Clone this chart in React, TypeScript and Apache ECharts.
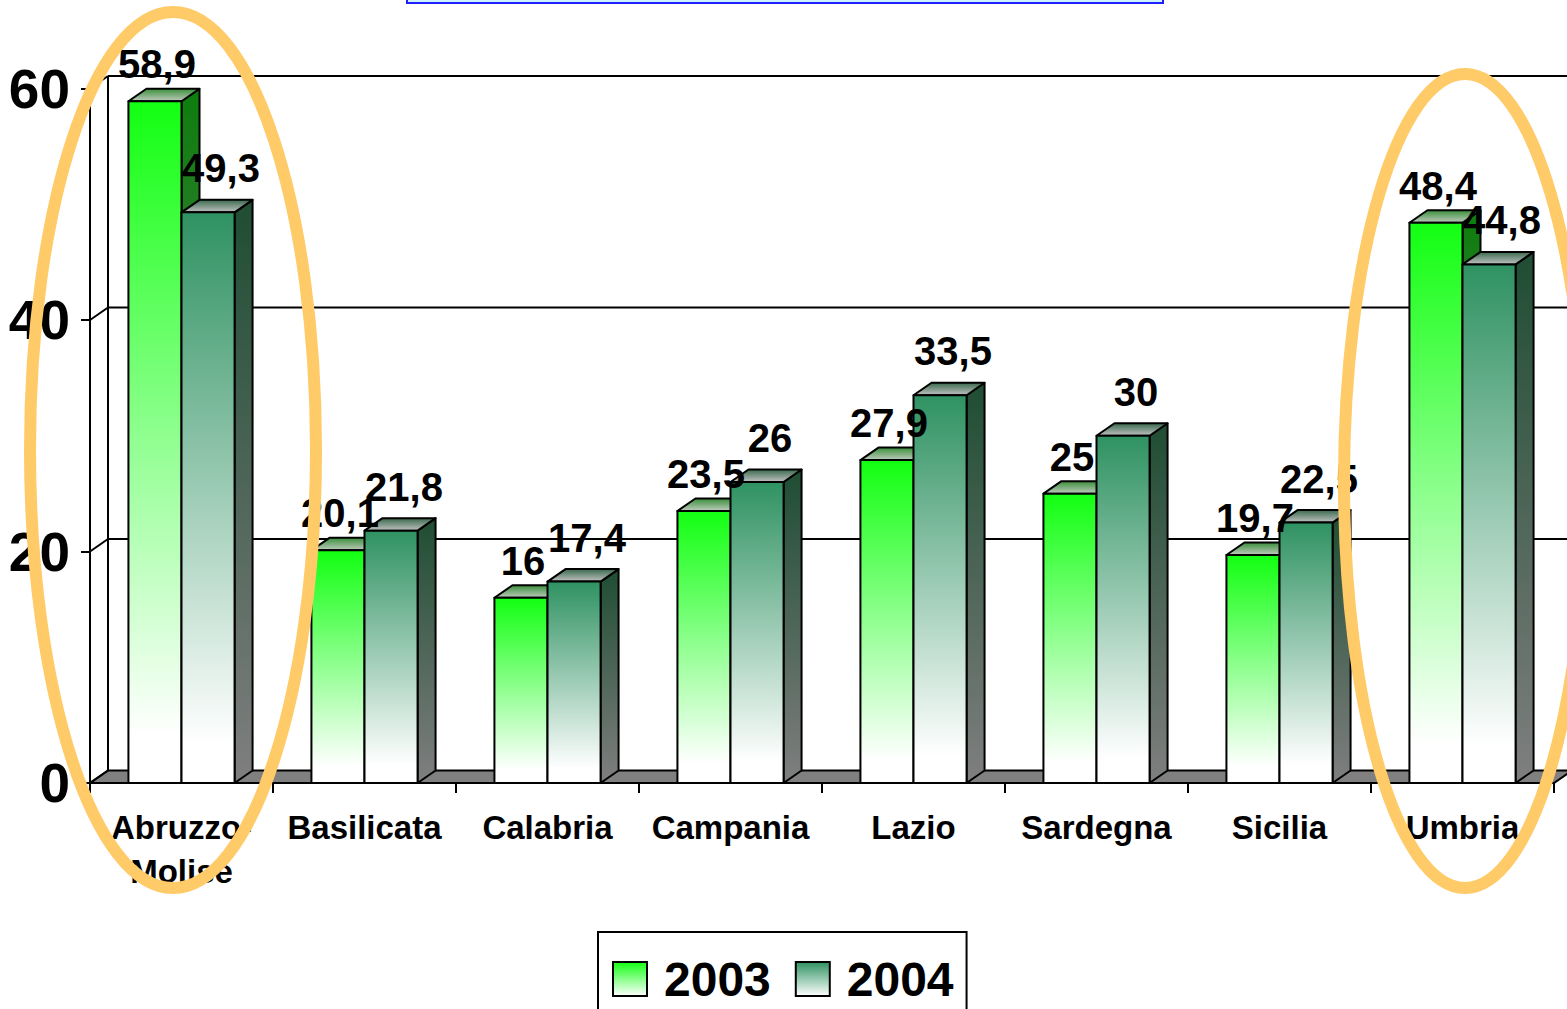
import React, { useEffect, useRef } from 'react';
import * as echarts from 'echarts';

const categories = ['Abruzzo-Molise', 'Basilicata', 'Calabria', 'Campania', 'Lazio', 'Sardegna', 'Sicilia', 'Umbria'];
const values2003 = [58.9, 20.1, 16, 23.5, 27.9, 25, 19.7, 48.4];
const values2004 = [49.3, 21.8, 17.4, 26, 33.5, 30, 22.5, 44.8];
const seriesNames = ['2003', '2004'];
const yTicks = [0, 20, 40, 60];

const FONT = 'Arial, "Liberation Sans", sans-serif';
const DX = 18;
const DY = 12.5;

const fmt = (v: number) => String(v).replace('.', ',');

const lg = (stops: [number, string][]) =>
  new echarts.graphic.LinearGradient(0, 0, 0, 1, stops.map(([offset, color]) => ({ offset, color })));

const palettes = [
  {
    front: () => lg([[0, '#12ff12'], [0.93, '#ffffff']]),
    side: () => lg([[0, '#0d7d0d'], [1, '#808080']]),
    top: () => lg([[0, '#3a8f3a'], [1, '#bfcbbf']]),
    labelDx: 2,
    labelDy: 37,
  },
  {
    front: () => lg([[0, '#2f9262'], [0.93, '#ffffff']]),
    side: () => lg([[0, '#1f4d33'], [1, '#7f7f7f']]),
    top: () => lg([[0, '#3a6a4e'], [1, '#c2c2c2']]),
    labelDx: 13,
    labelDy: 44,
  },
];

const makeBarRender = (sideIdx: number) => (params: any, api: any) => {
  const pal = palettes[sideIdx];
  const i = api.value(0) as number;
  const v = api.value(1) as number;
  const pTop = api.coord([i, v]);
  const pBase = api.coord([i, 0]);
  const band = api.size([1, 0])[0];
  const w = band * 0.29;
  const x0 = sideIdx === 0 ? pTop[0] - w : pTop[0];
  const x1 = x0 + w;
  const yt = pTop[1];
  const yb = pBase[1];
  const st = { stroke: '#000', lineWidth: 2, lineJoin: 'round' };
  return {
    type: 'group',
    children: [
      {
        type: 'polygon',
        shape: { points: [[x1, yt], [x1 + DX, yt - DY], [x1 + DX, yb - DY], [x1, yb]] },
        style: { fill: pal.side(), ...st },
      },
      {
        type: 'polygon',
        shape: { points: [[x0, yt], [x1, yt], [x1 + DX, yt - DY], [x0 + DX, yt - DY]] },
        style: { fill: pal.top(), ...st },
      },
      {
        type: 'rect',
        shape: { x: x0, y: yt, width: w, height: yb - yt },
        style: { fill: pal.front(), ...st },
      },
      {
        type: 'text',
        x: (x0 + x1) / 2 + pal.labelDx,
        y: yt - pal.labelDy,
        z2: 100,
        style: {
          text: fmt(v),
          fontSize: 40,
          fontWeight: 'bold',
          fontFamily: FONT,
          fill: '#000',
          align: 'center',
          verticalAlign: 'middle',
        },
      },
    ],
  };
};

const wallRender = (params: any, api: any) => {
  const v = api.value(1) as number;
  const cs = params.coordSys;
  const y = api.coord([0, v])[1];
  const yMin = api.coord([0, yTicks[0]])[1];
  const left = cs.x;
  const right = cs.x + cs.width;
  const st = { stroke: '#000', lineWidth: 2 };
  const children: any[] = [];
  if (v === yTicks[0]) {
    children.push({
      type: 'polygon',
      shape: { points: [[left, y], [right, y], [right + DX, y - DY], [left + DX, y - DY]] },
      style: { fill: '#808080', ...st },
    });
  } else {
    children.push({
      type: 'line',
      shape: { x1: left + DX, y1: y - DY, x2: right + DX, y2: y - DY },
      style: st,
    });
  }
  children.push({
    type: 'line',
    shape: { x1: left, y1: y, x2: left + DX, y2: y - DY },
    style: st,
  });
  if (v === yTicks[yTicks.length - 1]) {
    children.push({
      type: 'line',
      shape: { x1: left + DX, y1: y - DY, x2: left + DX, y2: yMin - DY },
      style: st,
    });
  }
  return { type: 'group', children };
};

export default function App() {
  const ref = useRef<HTMLDivElement>(null);
  useEffect(() => {
    if (!ref.current) return;
    const chart = echarts.init(ref.current, undefined, { renderer: 'svg' });
    chart.setOption({
      animation: false,
      backgroundColor: '#ffffff',
      grid: { left: 90, right: 13, top: 88.5, bottom: 226, outerBoundsMode: 'none' },
      legend: {
        data: seriesNames,
        left: 598,
        top: 932,
        orient: 'horizontal',
        padding: [23, 13, 40, 14],
        itemGap: 24,
        itemWidth: 34,
        itemHeight: 34,
        icon: 'rect',
        borderColor: '#000',
        borderWidth: 2,
        itemStyle: { borderColor: '#000', borderWidth: 2 },
        textStyle: { fontSize: 48, fontWeight: 'bold', color: '#000', fontFamily: FONT, padding: [0, 0, 0, 12] },
      },
      xAxis: {
        type: 'category',
        data: categories,
        axisLine: { show: true, lineStyle: { color: '#000', width: 2 } },
        axisTick: { show: true, alignWithLabel: false, length: 10, lineStyle: { color: '#000', width: 2 } },
        axisLabel: {
          interval: 0,
          fontSize: 33,
          fontWeight: 'bold',
          color: '#000',
          fontFamily: FONT,
          margin: 22,
          lineHeight: 44,
          formatter: (s: string) => s.replace('-', '-\n'),
        },
        splitLine: { show: false },
      },
      yAxis: {
        type: 'value',
        min: yTicks[0],
        max: yTicks[yTicks.length - 1],
        interval: yTicks[1] - yTicks[0],
        axisLine: { show: true, lineStyle: { color: '#000', width: 2 } },
        axisTick: { show: true, length: 9, lineStyle: { color: '#000', width: 2 } },
        axisLabel: { fontSize: 55, fontWeight: 'bold', color: '#000', fontFamily: FONT, margin: 20 },
        splitLine: { show: false },
      },
      graphic: [
        {
          type: 'rect',
          z: 100,
          shape: { x: 407, y: -40, width: 756, height: 43 },
          style: { fill: '#cdf3ff', stroke: '#1f1fff', lineWidth: 2 },
        },
        {
          type: 'ellipse',
          z: 100,
          shape: { cx: 173, cy: 450, rx: 143, ry: 438 },
          style: { fill: 'none', stroke: '#FFCA68', lineWidth: 12 },
        },
        {
          type: 'ellipse',
          z: 100,
          shape: { cx: 1465, cy: 481, rx: 121, ry: 407 },
          style: { fill: 'none', stroke: '#FFCA68', lineWidth: 12 },
        },
      ],
      series: [
        {
          name: 'walls',
          type: 'custom',
          z: 1,
          silent: true,
          renderItem: wallRender,
          data: yTicks.map((v) => [0, v]),
          encode: { x: 0, y: 1 },
        },
        {
          name: seriesNames[0],
          type: 'custom',
          z: 2,
          renderItem: makeBarRender(0),
          itemStyle: { color: lg([[0, '#12ff12'], [1, '#ffffff']]) },
          data: values2003.map((v, i) => [i, v]),
          encode: { x: 0, y: 1 },
        },
        {
          name: seriesNames[1],
          type: 'custom',
          z: 2,
          renderItem: makeBarRender(1),
          itemStyle: { color: lg([[0, '#2f9262'], [1, '#ffffff']]) },
          data: values2004.map((v, i) => [i, v]),
          encode: { x: 0, y: 1 },
        },
      ],
    });
    return () => chart.dispose();
  }, []);
  return <div ref={ref} style={{ position: 'fixed', left: 0, top: 0, width: 1567, height: 1009 }} />;
}
